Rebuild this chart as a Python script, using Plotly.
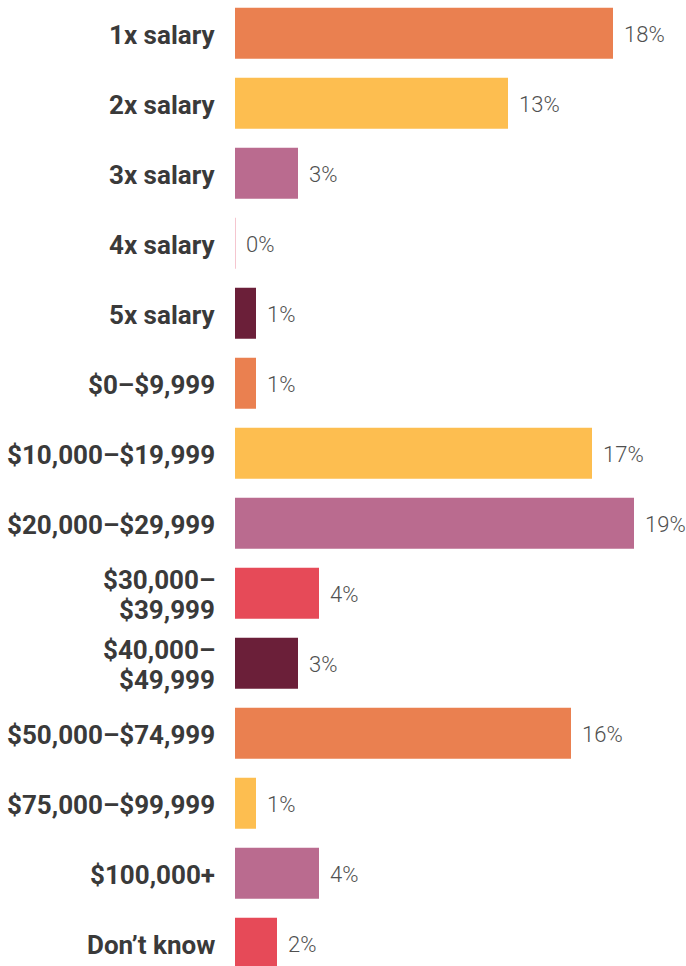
import plotly.graph_objects as go

categories = ["1x salary", "2x salary", "3x salary", "4x salary", "5x salary",
              "$0–$9,999", "$10,000–$19,999", "$20,000–$29,999",
              "$30,000–<br>$39,999", "$40,000–<br>$49,999",
              "$50,000–$74,999", "$75,000–$99,999", "$100,000+", "Don’t know"]
values = [18, 13, 3, 0, 1, 1, 17, 19, 4, 3, 16, 1, 4, 2]
palette = ["#EA8050", "#FDBE50", "#BA6B8F", "#E64A58", "#6B1F39"]

colors = [palette[i % len(palette)] for i in range(len(values))]
ypos = list(range(len(values)))
bar_w = 0.73

fig = go.Figure()
fig.add_trace(go.Bar(x=values, y=ypos, orientation="h", width=bar_w,
                     marker=dict(color=colors, line=dict(width=0)),
                     hoverinfo="skip"))

# zero-valued bars drawn as a thin line
for i, v in enumerate(values):
    if v == 0:
        fig.add_trace(go.Scatter(x=[v, v], y=[i - bar_w / 2, i + bar_w / 2], mode="lines",
                                 line=dict(color="#F2B3BF", width=1.5), hoverinfo="skip"))

annotations = []
label_font = dict(family="Roboto", size=26, color="#3A3A3A", weight=700)
for i, lab in enumerate(categories):
    parts = lab.split("<br>")
    n = len(parts)
    for j, p in enumerate(parts):
        off = (j - (n - 1) / 2) * 0.43
        annotations.append(dict(x=0, xref="paper", y=i + off, yref="y", text=p,
                                xanchor="right", yanchor="middle", xshift=-18, yshift=-2,
                                showarrow=False, font=label_font))
for i, v in enumerate(values):
    annotations.append(dict(x=v, xref="x", y=i, yref="y", text=f"{v}%",
                            xanchor="left", yanchor="middle", xshift=9, yshift=-1,
                            showarrow=False,
                            font=dict(family="Roboto", size=22, color="#505050", weight=300)))

fig.update_layout(
    width=686, height=966,
    margin=dict(l=235, r=0, t=0, b=0),
    paper_bgcolor="white", plot_bgcolor="white",
    showlegend=False,
    annotations=annotations,
    xaxis=dict(range=[0, 451 / 21], visible=False, fixedrange=True),
    yaxis=dict(range=[13.324, -0.476], visible=False, fixedrange=True),
)

fig.write_html("out.html", config={"displayModeBar": False},
               post_script="document.body.style.margin='0';")
